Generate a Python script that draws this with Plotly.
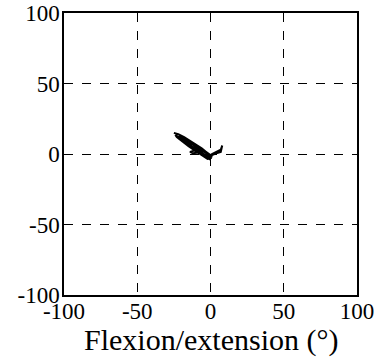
import plotly.graph_objects as go

# Trajectory (degrees): flexion/extension (x) vs. other axis (y)
flex = [-25, -22, -18, -14, -10, -6, -3, -1, 0, -2, -6, -10, -15, -19, -23, -24,
        -20, -16, -12, -8, -4, -1, 1, -1, -5, -9, -13, -17, -21, -22, -18, -14,
        -10, -6, -3, -1, 0, -3, -7, -11, -14, -12, -8, -4, -1, 1, 3, 5, 7, 8,
        7, 4, 1, -2, -5, -8, -11, -14, -10, -6, -2, 0, -4, -8, -12, -16, -20,
        -17, -13, -9, -5, -2, 0]
abad = [15, 14, 12, 9.5, 7, 4, 1.5, -1, -3, -3.5, -1, 2, 5.5, 8.5, 12, 13.5,
        11, 8, 5, 2.5, -0.5, -2.5, -2, 0, 3, 6, 8.5, 10.5, 12.5, 11.5, 8.5, 6,
        3.5, 1, -1, -3.5, -4, -2, 0.5, 2.5, 1.5, 0.5, 1, -0.5, -1.5, 0, 1, 1.5, 3, 6,
        1.5, 0.5, -1, -2, 0, 2, 3.5, 5, 2, 0, -2, -1, 1.5, 4.5, 7, 9.5, 12,
        10, 7.5, 4.5, 2, 0, -2]

tick_vals = [-100, -50, 0, 50, 100]
tick_text = ["-100", "-50", "0", "50", "100"]
x_title = "Flexion/extension (°)"

fig = go.Figure()
fig.add_trace(go.Scatter(x=flex, y=abad, mode="lines",
                         line=dict(color="black", width=2),
                         showlegend=False, hoverinfo="skip"))

font_ticks = dict(family="Liberation Serif", size=23, color="black")
axis_common = dict(range=[-100, 100], tickvals=tick_vals, ticktext=tick_text,
                   showgrid=True, gridcolor="black", griddash="dash", gridwidth=1,
                   zeroline=False, showline=True, linecolor="black", linewidth=1.5,
                   mirror=True, ticks="", tickfont=font_ticks, automargin=False)

fig.add_annotation(text=x_title, xref="paper", yref="paper", x=0.5, y=0,
                   xanchor="center", yanchor="middle", yshift=-45, showarrow=False,
                   font=dict(family="Liberation Serif", size=30, color="black"))

fig.update_layout(
    width=383, height=362,
    margin=dict(l=64, r=26, t=13, b=67),
    paper_bgcolor="white", plot_bgcolor="white",
    xaxis=dict(**axis_common, ticklabelstandoff=-5),
    yaxis=dict(**axis_common, ticklabelstandoff=-2),
)

fig.write_html("out.html", config={"displayModeBar": False},
               post_script="document.body.style.margin='0';document.body.style.padding='0';")
